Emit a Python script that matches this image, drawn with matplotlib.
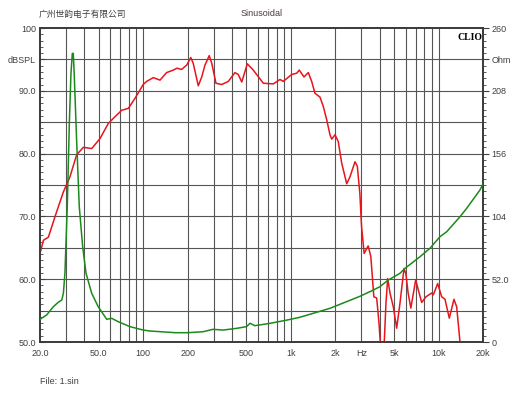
import matplotlib
matplotlib.use("Agg")
import matplotlib.pyplot as plt
from matplotlib.ticker import FixedLocator, NullFormatter

plt.rcParams['font.family'] = ['Liberation Sans', 'Noto Sans CJK SC', 'DejaVu Sans']

# ---- data ----
spl_freq = [20, 21.1, 22.8, 25.3, 28.8, 31.9, 35.4, 39.3, 44.8, 51.0,
            58.0, 62.7, 71.5, 79.3, 88.0, 100, 105.6, 117, 130, 144,
            160, 169, 182, 197, 210, 218, 236, 249, 262, 280,
            291, 311, 340, 377, 418, 440, 465, 507, 556, 651,
            760, 844, 889, 1013, 1095, 1140, 1227, 1312, 1383, 1456,
            1574, 1658, 1748, 1840, 1890, 1990, 2094, 2208, 2388, 2513,
            2718, 2817, 2931, 3010, 3134, 3336, 3479, 3646, 3811, 3951,
            4057, 4150, 4271, 4407, 4525, 4691, 4938, 5206, 5482, 5834,
            6005, 6223, 6491, 7002, 7292, 7689, 8222, 8985, 9213, 9867,
            10500, 11055, 11822, 12719, 13266, 13970, 14500]
spl_db = [64.1, 66.2, 66.7, 70.0, 73.9, 76.3, 79.8, 81.0, 80.8, 82.4,
          84.8, 85.6, 86.9, 87.2, 88.8, 91.0, 91.5, 92.1, 91.7, 92.9,
          93.3, 93.6, 93.4, 94.1, 95.3, 94.4, 90.8, 92.2, 94.1, 95.6,
          94.4, 91.2, 91.0, 91.5, 92.9, 92.6, 91.4, 94.3, 93.3, 91.2,
          91.1, 91.8, 91.5, 92.6, 92.8, 93.3, 92.2, 92.9, 91.5, 89.6,
          89.0, 87.5, 85.4, 83.0, 82.3, 83.0, 81.9, 78.5, 75.2, 76.3,
          78.7, 78.0, 73.7, 68.4, 64.1, 65.3, 63.6, 57.2, 57.0, 53.0,
          49.0, 45.0, 49.0, 56.3, 60.1, 57.8, 55.6, 52.2, 56.2, 61.7,
          60.9, 57.8, 55.4, 59.9, 58.3, 56.3, 57.2, 57.8, 57.5, 59.3,
          57.2, 56.8, 53.8, 56.8, 55.6, 50.0, 45.0]

imp_freq = [20, 22.2, 24.6, 26.6, 28.1, 28.8, 29.5, 30.6, 31.6, 32.4,
            33.1, 33.6, 34.1, 35.4, 36.9, 38.9, 41.0, 44.8, 49.6, 56.6,
            61.2, 67.8, 81.4, 100, 111, 166, 200, 254, 297, 348,
            429, 500, 529, 570, 726, 944, 1153, 1840, 2931, 3614,
            4004, 4568, 5482, 5927, 7487, 8750, 10225, 11356, 13970, 15510,
            19087, 20000]
imp_ohm = [18.8, 22.4, 29.2, 32.9, 34.8, 40.3, 56.9, 112, 181, 222,
           239, 239, 222, 167, 112, 78.9, 56.9, 40.3, 29.2, 18.8,
           19.6, 16.8, 12.7, 9.9, 9.1, 7.7, 7.7, 8.5, 10.5, 9.9,
           11.3, 12.7, 15.5, 13.5, 15.5, 18.2, 20.5, 27.9, 37.8, 43.0,
           45.8, 51.3, 56.9, 61.0, 70.6, 77.6, 87.2, 91.3, 103.7, 110.7,
           125.9, 131.0]

x_ticks = [20, 50, 100, 200, 500, 1000, 2000, 3000, 5000, 10000, 20000]
x_labels = ['20.0', '50.0', '100', '200', '500', '1k', '2k', 'Hz', '5k', '10k', '20k']
y_ticks = [50, 60, 70, 80, 90, 95, 100]
y_labels = ['50.0', '60.0', '70.0', '80.0', '90.0', 'dBSPL', '100']
z_ticks = [0, 52, 104, 156, 208, 234, 260]
z_labels = ['0', '52.0', '104', '156', '208', 'Ohm', '260']

W, H = 530, 398
L, R, T, B = 40, 483, 28, 342
fig = plt.figure(figsize=(W / 100, H / 100), dpi=100)
fig.patch.set_facecolor('white')
ax = fig.add_axes([L / W, (H - B) / H, (R - L) / W, (B - T) / H])
ax.set_xscale('log')
ax.set_xlim(20, 20000)
ax.set_ylim(50, 100)

grid_c = '#555555'
vgrid = [30, 40, 50, 60, 70, 80, 90, 100, 200, 300, 400, 500, 600, 700, 800, 900,
         1000, 2000, 3000, 4000, 5000, 6000, 7000, 8000, 9000, 10000]
for f in vgrid:
    ax.axvline(f, color=grid_c, lw=0.8, zorder=1)
for v in range(55, 100, 5):
    ax.axhline(v, color=grid_c, lw=0.8, zorder=1)

ax.plot(spl_freq, spl_db, color='#e8141c', lw=1.1, zorder=3, clip_on=True)

ax2 = ax.twinx()
ax2.set_ylim(0, 260)
ax2.set_xlim(20, 20000)
ax2.plot(imp_freq, imp_ohm, color='#1b8a1b', lw=1.1, zorder=3)

txt_c = '#404040'
fs = 6.5
ax.xaxis.set_major_locator(FixedLocator(x_ticks))
ax.xaxis.set_minor_locator(FixedLocator([]))
ax.set_xticklabels(x_labels, fontsize=fs, color=txt_c)
ax.tick_params(axis='x', which='both', length=0, pad=5)

ax.set_yticks(y_ticks)
ax.set_yticklabels(y_labels, fontsize=fs, color=txt_c)
ax.yaxis.set_minor_locator(FixedLocator(list(range(50, 101))))
ax.yaxis.set_minor_formatter(NullFormatter())
ax.tick_params(axis='y', which='major', direction='in', length=3.5, width=0.8,
               color='#404040', pad=3)
ax.tick_params(axis='y', which='minor', direction='in', length=2, width=0.6,
               color='#404040')

ax2.set_yticks(z_ticks)
ax2.set_yticklabels(z_labels, fontsize=fs, color=txt_c)
ax2.yaxis.set_minor_locator(FixedLocator([i * 5.2 for i in range(51)]))
ax2.yaxis.set_minor_formatter(NullFormatter())
ax2.tick_params(axis='y', which='major', direction='out', length=4, width=0.8,
                color='#404040', pad=2)
ax2.tick_params(axis='y', which='minor', direction='out', length=2.5, width=0.6,
                color='#404040')

for a in (ax, ax2):
    for s in a.spines.values():
        s.set_color('#3a3a3a')
        s.set_linewidth(1.2)

ax2.text(0.998, 0.985, 'CLIO', transform=ax2.transAxes, ha='right', va='top',
         fontsize=7, fontweight='bold', family='Liberation Serif', color='black')

fig.text(39 / W, 1 - 14 / H, '广州世韵电子有限公司', fontsize=6.3, color=txt_c,
         ha='left', va='center', family=['Noto Sans CJK SC', 'DejaVu Sans'])
fig.text(262 / W, 1 - 14 / H, 'Sinusoidal', fontsize=6.5, color='#4a3a3a',
         ha='center', va='center')
fig.text(40 / W, 1 - 381 / H, 'File: 1.sin', fontsize=6.5, color=txt_c,
         ha='left', va='center')

fig.savefig('out.png', dpi=100, facecolor='white')
